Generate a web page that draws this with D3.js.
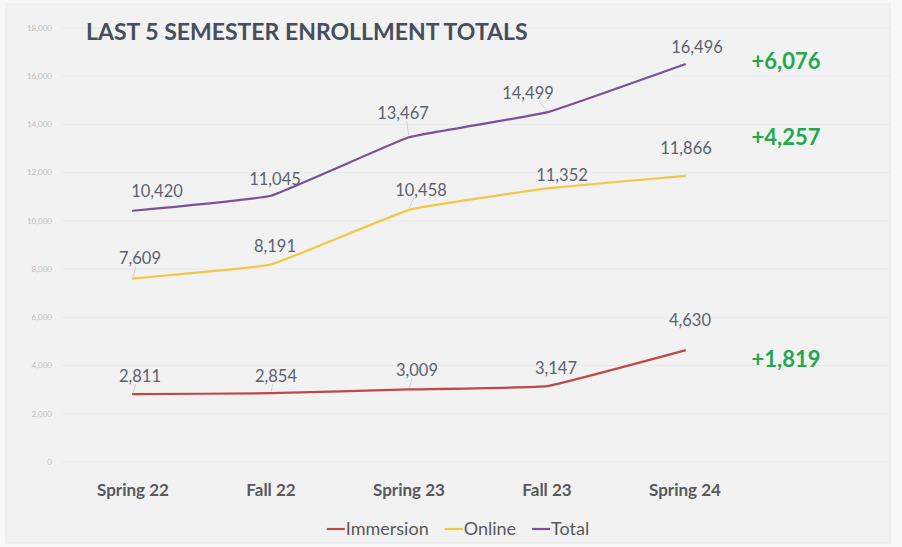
<!DOCTYPE html>
<html lang="en">
<head>
<meta charset="UTF-8">
<title>Last 5 Semester Enrollment Totals</title>
<style>
  body { margin: 0; background: #f8f8f8; font-family: Lato, "Open Sans", sans-serif; }
  svg { display: block; }
</style>
<script src="https://cdn.jsdelivr.net/npm/d3@7"></script>
</head>
<body>
<svg id="chart" width="902" height="547"></svg>
<script>
// data
const semesters = ["Spring 22", "Fall 22", "Spring 23", "Fall 23", "Spring 24"];
const immersion = [2811, 2854, 3009, 3147, 4630];
const online = [7609, 8191, 10458, 11352, 11866];
const total = [10420, 11045, 13467, 14499, 16496];
const yTicks = [0, 2000, 4000, 6000, 8000, 10000, 12000, 14000, 16000, 18000];
const seriesNames = ["Immersion", "Online", "Total"];

const series = [
  { name: seriesNames[0], values: immersion, color: "#c0474a" },
  { name: seriesNames[1], values: online, color: "#f3c745" },
  { name: seriesNames[2], values: total, color: "#7b4f99" }
];

// label nudges (px) from each point, as placed in the original; third item = leader line
const labelNudge = {
  Immersion: [[7, -18, 1], [5, -17, 1], [8, -19, 1], [9, -18, 0], [5, -30, 0]],
  Online: [[7, -20, 1], [4, -18, 0], [12, -20, 1], [15, -13, 0], [1, -28, 0]],
  Total: [[24, -20, 0], [4, -16, 0], [-6, -24, 1], [-19, -19, 1], [12, -17, 0]]
};
const deltaNudge = { Immersion: 9, Online: -39, Total: -3 };

const svg = d3.select("#chart");

// panel
svg.append("rect")
  .attr("x", 6).attr("y", 4).attr("width", 884).attr("height", 539)
  .attr("fill", "#f2f2f2").attr("stroke", "#e9e9e9");

const x = d3.scalePoint().domain(semesters).range([64, 754]).padding(0.5);
const y = d3.scaleLinear().domain([0, 18000]).range([462, 28]);

// gridlines + y labels
const grid = svg.append("g");
grid.selectAll("line").data(yTicks).join("line")
  .attr("x1", 62).attr("x2", 890)
  .attr("y1", d => y(d)).attr("y2", d => y(d))
  .attr("stroke", "#e8e8e8").attr("stroke-width", 1);
grid.selectAll("text").data(yTicks).join("text")
  .attr("x", 52).attr("y", d => y(d)).attr("dy", "0.35em")
  .attr("text-anchor", "end")
  .attr("font-size", 8).attr("fill", "#bdbdbd")
  .text(d3.format(","));

// x labels
svg.append("g").selectAll("text").data(semesters).join("text")
  .attr("x", d => x(d)).attr("y", 490).attr("dy", "0.35em")
  .attr("text-anchor", "middle")
  .attr("font-size", 17).attr("font-weight", 700).attr("fill", "#595959")
  .text(d => d);

// title
svg.append("text")
  .attr("x", 86).attr("y", 40)
  .attr("font-size", 23).attr("font-weight", 700).attr("fill", "#444e5c")
  .text("LAST 5 SEMESTER ENROLLMENT TOTALS");

const line = d3.line()
  .x((d, i) => x(semesters[i]))
  .y(d => y(d))
  .curve(d3.curveCardinal.tension(0.75));

const fmt = d3.format(",");

series.forEach(s => {
  const g = svg.append("g");
  g.append("path")
    .attr("d", line(s.values))
    .attr("fill", "none")
    .attr("stroke", s.color)
    .attr("stroke-width", 2.2)
    .attr("stroke-linecap", "round")
    .attr("stroke-linejoin", "round");

  s.values.forEach((v, i) => {
    const px = x(semesters[i]), py = y(v);
    const [dx, dy, leader] = labelNudge[s.name][i];
    const lx = px + dx, ly = py + dy;
    if (leader) {
      g.append("line")
        .attr("x1", lx + dx * -0.6).attr("y1", ly + 8)
        .attr("x2", px).attr("y2", py - 1.5)
        .attr("stroke", "#c8c8c8").attr("stroke-width", 0.8);
    }
    g.append("text")
      .attr("x", lx).attr("y", ly).attr("dy", "0.35em")
      .attr("text-anchor", "middle")
      .attr("font-size", 16.5).attr("fill", "#5b6270")
      .text(fmt(v));
  });

  // growth over the five semesters
  const last = s.values[s.values.length - 1];
  const growth = last - s.values[0];
  svg.append("text")
    .attr("x", 786).attr("y", y(last) + deltaNudge[s.name]).attr("dy", "0.35em")
    .attr("text-anchor", "middle")
    .attr("font-size", 22).attr("font-weight", 700).attr("fill", "#22a850")
    .text("+" + fmt(growth));
});

// legend
const legend = svg.append("g");
let lxPos = 0;
series.forEach(s => {
  const item = legend.append("g").attr("transform", `translate(${lxPos},0)`);
  item.append("line").attr("x1", 0).attr("x2", 18).attr("y1", 0).attr("y2", 0)
    .attr("stroke", s.color).attr("stroke-width", 2.2);
  const t = item.append("text").attr("x", 19).attr("dy", "0.35em")
    .attr("font-size", 18).attr("fill", "#595959").text(s.name);
  lxPos += 19 + t.node().getComputedTextLength() + 16;
});
const legendW = lxPos - 16;
legend.attr("transform", `translate(${458 - legendW / 2},529)`);
</script>
</body>
</html>
